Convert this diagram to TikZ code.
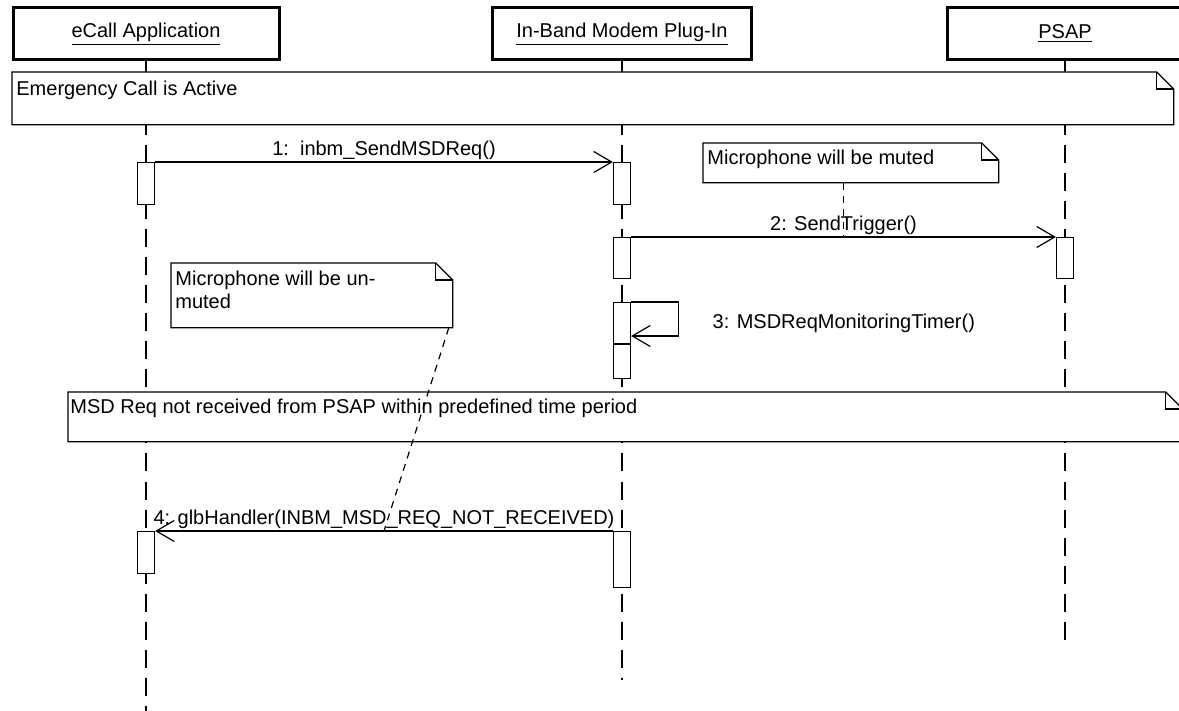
\documentclass[tikz,border=0pt]{standalone}
\usepackage{fontspec}
\setmainfont{Liberation Sans}
\usetikzlibrary{arrows.meta,positioning}

\begin{document}
\begin{tikzpicture}[x=0.5pt, y=-0.5pt, font=\fontsize{10}{11.5}\selectfont,
    object/.style={rectangle, draw, line width=1.5pt, fill=white, minimum height=26pt, inner sep=0pt},
    lifeline/.style={line width=0.6pt, dash pattern=on 9pt off 5pt},
    activation/.style={rectangle, draw, line width=0.6pt, fill=white, minimum width=8.5pt, inner sep=0pt, anchor=north},
    note/.style={rectangle, inner sep=0pt, anchor=north west,
        append after command={\pgfextra{
            \filldraw [fill=white, line width=0.6pt] (\tikzlastnode.north west) -- ([xshift=-8.5pt]\tikzlastnode.north east)
                -- ([yshift=-8.5pt]\tikzlastnode.north east) -- (\tikzlastnode.south east)
                -- (\tikzlastnode.south west) -- cycle;
            \draw [line width=0.6pt] ([xshift=-8.5pt]\tikzlastnode.north east) -- ([shift={(-8.5pt,-8.5pt)}]\tikzlastnode.north east)
                -- ([yshift=-8.5pt]\tikzlastnode.north east);}}},
    notetext/.style={inner sep=1pt, align=left, anchor=west},
    msg/.style={line width=0.6pt, -{Straight Barb[length=9pt, width=10.5pt]}},
    msglabel/.style={inner sep=1pt},
    link/.style={line width=0.6pt, dash pattern=on 3.5pt off 3pt}]
    \useasboundingbox (0,0) rectangle (1179,711);

    % Objects
    \node [object, minimum width=133pt] (ecall) at (146,34) {\underline{eCall Application}};
    \node [object, minimum width=129.5pt] (modem) at (622,34) {\underline{In-Band Modem Plug-In}};
    \node [object, minimum width=118pt] (psap) at (1065,34) {\underline{PSAP}};

    % Lifelines
    \coordinate (ecall end) at (146,711);
    \coordinate (modem end) at (622,680);
    \coordinate (psap end) at (1065,640);
    \draw [lifeline] (ecall) -- (ecall end);
    \draw [lifeline] (modem) -- (modem end);
    \draw [lifeline] (psap) -- (psap end);

    % Notes
    \node [note, minimum width=580.5pt, minimum height=26pt] (active) at (12,72) {};
    \node [notetext] (active text) at ([shift={(1pt,-9pt)}]active.north west) {Emergency Call is Active};
    \node [note, minimum width=147.5pt, minimum height=19.5pt] (muted) at (703,143) {};
    \node [notetext] (muted text) at ([shift={(1pt,-8pt)}]muted.north west) {Microphone will be muted};
    \node [note, minimum width=140.5pt, minimum height=32pt] (unmuted) at (171,263) {};
    \node [notetext, anchor=north west] (unmuted text) at ([shift={(1pt,-3pt)}]unmuted.north west) {Microphone will be un-\\muted};
    \node [note, minimum width=557pt, minimum height=24.5pt] (timeout) at (68,392) {};
    \node [notetext] (timeout text) at ([shift={(0pt,-8pt)}]timeout.north west) {MSD Req not received from PSAP within predefined time period};

    % Activations
    \node [activation, minimum height=21pt] (a1) at (146,162) {};
    \node [activation, minimum height=21pt] (b1) at (622,162) {};
    \node [activation, minimum height=20.5pt] (b2) at (622,237) {};
    \node [activation, minimum height=20.5pt] (p2) at (1065,237) {};
    \node [activation, minimum height=38pt] (b3) at (622,302) {};
    \node [activation, minimum height=21pt] (a4) at (146,531) {};
    \node [activation, minimum height=28pt] (b4) at (622,531) {};
    \draw [line width=0.6pt] ([yshift=-21pt]b3.north west) -- ([yshift=-21pt]b3.north east);

    % Messages
    \draw [msg] (a1.north east) -- node [msglabel, above] {1:\ \ inbm\_SendMSDReq()} (b1.north west);
    \draw [msg] (b2.north east) -- coordinate (m2) node [msglabel, above] {2: SendTrigger()} (p2.north west);
    \draw [msg] (b3.north east) -- ++(23.5pt,0) -- node [msglabel, right=16pt, yshift=-2pt] {3: MSDReqMonitoringTimer()} ++(0,-17pt) -- ++(-23.5pt,0);
    \draw [msg] (b4.north west) -- coordinate (m4) node [msglabel, above] {4: glbHandler(INBM\_MSD\_REQ\_NOT\_RECEIVED)} (a4.north east);

    % Note links
    \draw [link] (muted.south -| m2) -- (m2);
    \draw [link] ([xshift=-2pt]unmuted.south east) -- (m4);
\end{tikzpicture}
\end{document}
